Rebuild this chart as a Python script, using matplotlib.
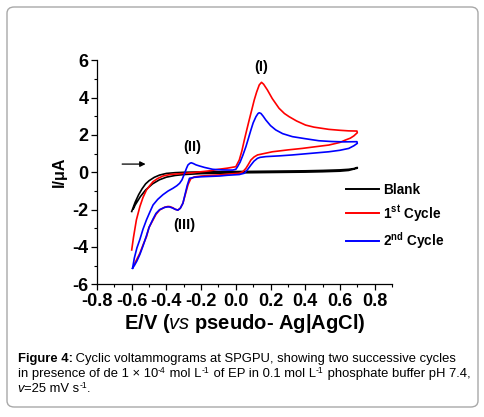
import matplotlib
matplotlib.use("Agg")
import matplotlib.pyplot as plt
from matplotlib.patches import FancyBboxPatch
from matplotlib.ticker import MultipleLocator

plt.rcParams["font.family"] = ["Liberation Sans", "DejaVu Sans"]
plt.rcParams["mathtext.fontset"] = "custom"
plt.rcParams["mathtext.rm"] = "Liberation Sans"
plt.rcParams["mathtext.it"] = "Liberation Sans:italic"
plt.rcParams["mathtext.bf"] = "Liberation Sans:bold"

# blank: forward then reverse scan
E_BLANK = [-0.6, -0.58, -0.56, -0.54, -0.52, -0.5, -0.47, -0.44, -0.4, -0.35, -0.3, -0.2,
           -0.1, 0.0, 0.1, 0.2, 0.3, 0.4, 0.5, 0.6, 0.65, 0.68, 0.7,
           0.7, 0.65, 0.6, 0.5, 0.4, 0.3, 0.2, 0.1, 0.0, -0.1, -0.2, -0.3, -0.35, -0.4,
           -0.44, -0.48, -0.52, -0.55, -0.58, -0.59]
I_BLANK = [-2.1, -1.6, -1.2, -0.88, -0.62, -0.45, -0.27, -0.15, -0.06, -0.02, 0.0, 0.02,
           0.03, 0.04, 0.05, 0.06, 0.07, 0.08, 0.1, 0.13, 0.16, 0.2, 0.26,
           0.22, 0.1, 0.06, 0.03, 0.01, 0.0, -0.01, -0.02, -0.03, -0.05, -0.07, -0.12,
           -0.17, -0.26, -0.4, -0.62, -0.95, -1.3, -1.75, -1.95]

# 1st cycle
E_CYC1 = [-0.6, -0.59, -0.573, -0.553, -0.535, -0.515, -0.495, -0.477, -0.45, -0.42,
          -0.38, -0.33, -0.286, -0.25, -0.2, -0.15, -0.1, -0.05, 0.0, 0.02, 0.035, 0.049,
          0.063, 0.077, 0.092, 0.106, 0.12, 0.135, 0.148, 0.16, 0.182, 0.21, 0.249, 0.28,
          0.307, 0.35, 0.402, 0.45, 0.536, 0.6, 0.65, 0.698,
          0.7, 0.68, 0.66, 0.632, 0.6, 0.536, 0.45, 0.383, 0.3, 0.211, 0.16, 0.125, 0.105,
          0.087, 0.072, 0.058, 0.04, 0.02, -0.05, -0.095, -0.15, -0.2, -0.24, -0.26,
          -0.275, -0.29, -0.305, -0.32, -0.334, -0.35, -0.363, -0.38, -0.391, -0.41,
          -0.439, -0.46, -0.477, -0.5, -0.515, -0.535, -0.553, -0.57, -0.582]
I_CYC1 = [-4.16, -3.5, -2.55, -1.84, -1.35, -0.95, -0.7, -0.5, -0.33, -0.2,
          -0.12, -0.08, -0.05, -0.02, 0.03, 0.08, 0.16, 0.22, 0.3, 0.66, 1.15, 1.73,
          2.27, 2.8, 3.35, 3.87, 4.3, 4.68, 4.82, 4.72, 4.41, 3.95, 3.43, 3.15,
          2.98, 2.75, 2.53, 2.42, 2.3, 2.25, 2.22, 2.21,
          2.12, 1.95, 1.83, 1.73, 1.6, 1.46, 1.36, 1.28, 1.2, 1.1, 1.0, 0.93, 0.82,
          0.66, 0.42, 0.21, 0.03, -0.05, -0.1, -0.14, -0.17, -0.2, -0.25, -0.35,
          -0.65, -1.15, -1.66, -1.92, -2.02, -1.98, -1.9, -1.84, -1.83, -1.87,
          -2.02, -2.25, -2.55, -2.95, -3.45, -3.9, -4.34, -4.65, -4.87]

# 2nd cycle
E_CYC2 = [-0.595, -0.585, -0.57, -0.553, -0.535, -0.515, -0.495, -0.477, -0.45, -0.42,
          -0.39, -0.363, -0.34, -0.324, -0.31, -0.295, -0.285, -0.276, -0.265, -0.257,
          -0.245, -0.23, -0.21, -0.18, -0.133, -0.08, -0.04, -0.018, 0.0, 0.01, 0.025,
          0.04, 0.058, 0.072, 0.087, 0.1, 0.116, 0.128, 0.135, 0.145, 0.158, 0.173, 0.2,
          0.23, 0.27, 0.326, 0.4, 0.479, 0.55, 0.62, 0.698,
          0.7, 0.68, 0.651, 0.6, 0.536, 0.45, 0.326, 0.25, 0.173, 0.14, 0.125, 0.105,
          0.087, 0.068, 0.049, 0.02, -0.05, -0.095, -0.15, -0.2, -0.24, -0.255, -0.267,
          -0.28, -0.293, -0.305, -0.32, -0.334, -0.35, -0.363, -0.38, -0.391, -0.41,
          -0.439, -0.46, -0.477, -0.5, -0.515, -0.535, -0.553, -0.57, -0.585, -0.595]
I_CYC2 = [-5.14, -4.6, -4.05, -3.6, -3.05, -2.55, -2.12, -1.75, -1.45, -1.2,
          -1.0, -0.86, -0.72, -0.59, -0.4, -0.05, 0.2, 0.39, 0.48, 0.51,
          0.47, 0.4, 0.34, 0.26, 0.16, 0.13, 0.12, 0.12, 0.16, 0.3, 0.55,
          0.9, 1.37, 1.8, 2.27, 2.65, 2.98, 3.15, 3.19, 3.15, 3.0, 2.8, 2.5,
          2.27, 2.07, 1.91, 1.8, 1.69, 1.65, 1.63, 1.64,
          1.55, 1.42, 1.28, 1.18, 1.1, 1.03, 0.93, 0.88, 0.84, 0.8, 0.75, 0.6,
          0.39, 0.15, -0.05, -0.12, -0.16, -0.2, -0.22, -0.24, -0.27, -0.3, -0.32,
          -0.7, -1.2, -1.66, -1.93, -2.03, -1.98, -1.92, -1.86, -1.85, -1.88,
          -2.0, -2.2, -2.5, -2.95, -3.4, -3.95, -4.4, -4.75, -5.0, -5.14]

LABELS = ["Blank", r"1$^{\mathbf{st}}$ Cycle", r"2$^{\mathbf{nd}}$ Cycle"]
COLORS = ["black", "#ff0000", "#0000ff"]

fig = plt.figure(figsize=(4.84, 4.17), dpi=100)
W, H = 484.0, 417.0

# rounded frame round the figure + caption
frame = FancyBboxPatch((7 / W, 1 - 407 / H), 471 / W, 400 / H,
                       boxstyle="round,pad=0,rounding_size=0.015",
                       transform=fig.transFigure, facecolor="none",
                       edgecolor="#a8a8a8", linewidth=1.0, zorder=-1)
fig.patches.append(frame)

ax = fig.add_axes([97 / W, 1 - 284.3 / H, (392 - 97) / W, (284.3 - 60.3) / H])
ax.set_facecolor("none")

for E, I, lab, col in zip([E_BLANK, E_CYC1, E_CYC2], [I_BLANK, I_CYC1, I_CYC2], LABELS, COLORS):
    ax.plot(E, I, color=col, lw=1.2, label=lab)

ax.set_xlim(-0.8, 0.9)
ax.set_ylim(-6, 6)
ax.xaxis.set_minor_locator(MultipleLocator(0.1))
ax.yaxis.set_minor_locator(MultipleLocator(1))
ax.set_xticks([-0.8, -0.6, -0.4, -0.2, 0.0, 0.2, 0.4, 0.6, 0.8])
ax.set_xticklabels(["-0.8", "-0.6", "-0.4", "-0.2", "0.0", "0.2", "0.4", "0.6", "0.8"])
ax.set_yticks([-6, -4, -2, 0, 2, 4, 6])
ax.set_yticklabels(["-6", "-4", "-2", "0", "2", "4", "6"])
for sp in ("top", "right"):
    ax.spines[sp].set_visible(False)
for sp in ("left", "bottom"):
    ax.spines[sp].set_linewidth(0.9)
ax.tick_params(which="major", direction="out", length=4, width=0.9, labelsize=13, pad=2)
ax.tick_params(which="minor", direction="out", length=2, width=0.8)
for t in ax.get_xticklabels() + ax.get_yticklabels():
    t.set_fontweight("bold")

ax.set_xlabel(r"E/V ($\mathit{vs}$ pseudo- Ag|AgCl)", fontsize=14.5, fontweight="bold", labelpad=2)
ax.set_ylabel("I/μA", fontsize=11.5, fontweight="bold", labelpad=4)

ax.text(0.146, 5.64, "(I)", ha="center", va="center", fontsize=10.5, fontweight="bold")
ax.text(-0.25, 1.35, "(II)", ha="center", va="center", fontsize=10.5, fontweight="bold")
ax.text(-0.298, -2.82, "(III)", ha="center", va="center", fontsize=10.5, fontweight="bold")
ax.annotate("", xy=(-0.52, 0.44), xytext=(-0.655, 0.44),
            arrowprops=dict(arrowstyle="-|>", color="black", lw=0.9,
                            mutation_scale=8, shrinkA=0, shrinkB=0))

leg = ax.legend(loc="upper left", bbox_to_anchor=(346 / W, 1 - 183 / H),
                bbox_transform=fig.transFigure, frameon=False, fontsize=9.8,
                handlelength=2.4, handletextpad=0.3, labelspacing=0.45,
                borderpad=0, borderaxespad=0)
for t in leg.get_texts():
    t.set_fontweight("bold")
for ln in leg.get_lines():
    ln.set_linewidth(1.4)

# caption, laid out piece by piece so superscripts stay small and tight
renderer = fig.canvas.get_renderer()
CAP = 9.4


def caption_line(y_px, pieces):
    x = 17.5
    for txt, kind in pieces:
        kw = dict(ha="left", va="baseline", transform=fig.transFigure)
        if kind == "sup":
            t = fig.text(x / W, 1 - (y_px - 4) / H, txt, fontsize=6.2, **kw)
        elif kind == "bold":
            t = fig.text(x / W, 1 - y_px / H, txt, fontsize=CAP, fontweight="bold", **kw)
        elif kind == "ital":
            t = fig.text(x / W, 1 - y_px / H, txt, fontsize=CAP, style="italic", **kw)
        else:
            t = fig.text(x / W, 1 - y_px / H, txt, fontsize=CAP, **kw)
        x = t.get_window_extent(renderer=renderer).x1 + (0.5 if kind == "sup" else 0)


caption_line(362, [("Figure 4:", "bold"),
                   (" Cyclic voltammograms at SPGPU, showing two successive cycles", "reg")])
caption_line(377, [("in presence of de 1 × 10", "reg"), ("-4", "sup"), (" mol L", "reg"),
                   ("-1", "sup"), (" of EP in 0.1 mol L", "reg"), ("-1", "sup"),
                   (" phosphate buffer pH 7.4,", "reg")])
caption_line(391.5, [("v", "ital"), ("=25 mV s", "reg"), ("-1", "sup"), (".", "reg")])

fig.savefig("out.png", dpi=100)
